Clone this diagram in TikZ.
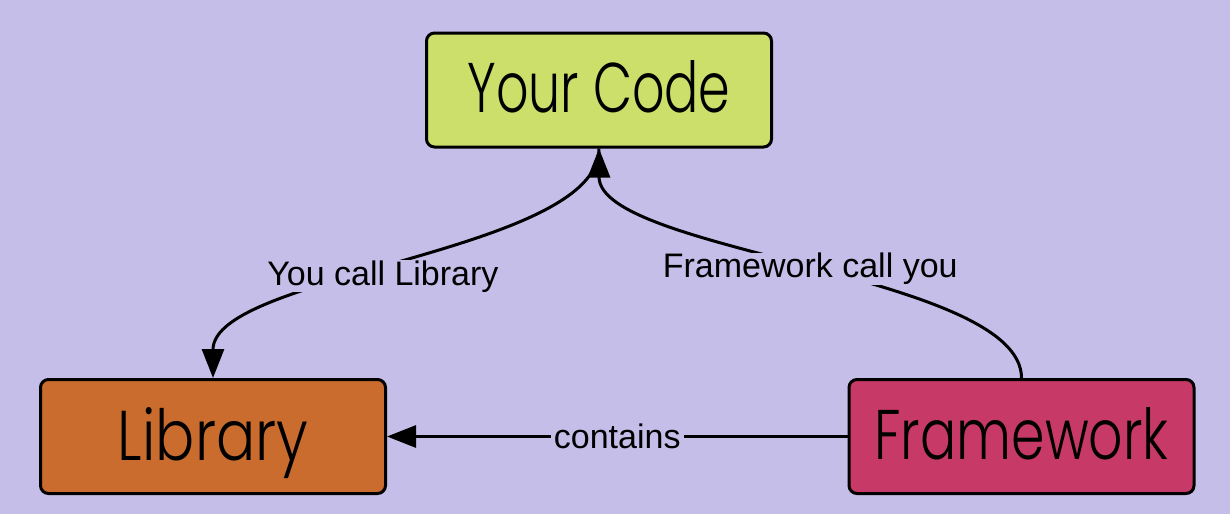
\documentclass[tikz,border=0pt]{standalone}
\usepackage{fontspec}
\setmainfont{Liberation Sans}
\newfontfamily\handfont{Poppins}[UprightFont=* Light]
\usetikzlibrary{arrows.meta}
\definecolor{bgc}{RGB}{197,190,232}
\definecolor{codec}{RGB}{203,223,106}
\definecolor{libc}{RGB}{201,108,45}
\definecolor{fwc}{RGB}{199,57,103}
\newcommand\boxtxt[4]{\raisebox{#1pt}[0pt][0pt]{\resizebox{#2pt}{#3pt}{\handfont #4}}}
\tikzset{
  boxnode/.style={draw=black, line width=3pt, rounded corners=8pt, minimum width=345pt, minimum height=114pt, inner sep=0pt},
  arr/.style={line width=3pt, -{Triangle[length=29pt,width=22pt]}},
  lbl/.style={fill=bgc, inner xsep=3pt, inner ysep=0pt, font=\fontsize{34}{40}\selectfont, text=black}
}
\begin{document}
\begin{tikzpicture}[x=1pt,y=-1pt]
\fill[bgc] (0,0) rectangle (1230,514);
\useasboundingbox (0,0) rectangle (1230,514);
\node[boxnode, fill=codec] (yc) at (599,90) {\boxtxt{-22}{263}{52}{Your Code}};
\node[boxnode, fill=libc] (lib) at (213,436.5) {\boxtxt{-23.5}{190}{53}{Library}};
\node[boxnode, fill=fwc] (fw) at (1021.5,436.5) {\boxtxt{-22.5}{294}{52}{Framework}};
\draw[arr] (yc.south) .. controls +(0,104) and +(0,-104) .. (lib.north)
  node[pos=0.54, lbl, yshift=-5.5pt] (l1) {You call Library};
\draw[arr] (fw.north) .. controls +(0,-104) and +(0,104) .. (yc.south)
  node[pos=0.5, lbl, yshift=-5.5pt] (l2) {Framework call you};
\draw[arr] (fw.west) -- (lib.east)
  node[midway, lbl] (l3) {contains};
\end{tikzpicture}
\end{document}
